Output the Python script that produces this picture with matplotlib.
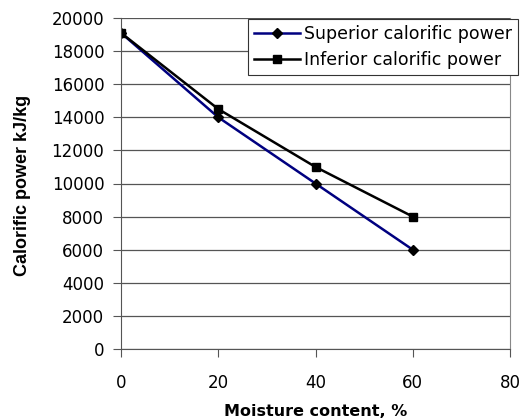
import matplotlib
matplotlib.use("Agg")
import matplotlib.pyplot as plt

moisture = [0, 20, 40, 60]
superior = [19100, 14000, 10000, 6000]
inferior = [19100, 14500, 11000, 8000]

plt.rcParams['font.family'] = ['DejaVu Sans']

fig = plt.figure(figsize=(5.3, 4.2), dpi=100)
ax = fig.add_axes([121 / 530, 1 - 349 / 420, (510 - 121) / 530, (349 - 18) / 420])

ax.plot(moisture, superior, color="#000080", lw=1.8, marker="D", markersize=5,
        markerfacecolor="black", markeredgecolor="black", label="Superior calorific power")
ax.plot(moisture, inferior, color="black", lw=1.8, marker="s", markersize=6,
        markerfacecolor="black", markeredgecolor="black", label="Inferior calorific power")

ax.set_xlim(0, 80)
ax.set_ylim(0, 20000)
ax.set_xticks(range(0, 81, 20))
ax.set_yticks(range(0, 20001, 2000))
ax.yaxis.grid(True, color="#555555", lw=0.9)
ax.set_axisbelow(True)

ax.spines["top"].set_visible(False)
ax.spines["right"].set_color("#888888")
ax.spines["left"].set_color("#555555")
ax.spines["bottom"].set_color("#555555")
ax.tick_params(direction="out", length=6, color="#555555", labelsize=12)
ax.tick_params(axis="y", pad=6)
ax.tick_params(axis="x", pad=12)

ax.set_xlabel("Moisture content, %", fontsize=11.5, fontweight="bold")
ax.xaxis.set_label_coords(0.5, (349 - 412) / 331, transform=ax.transAxes)
ax.xaxis.label.set_va("center")
ax.set_ylabel("Calorific power kJ/kg", fontsize=13, fontweight="bold",
              family="Liberation Sans")
ax.yaxis.set_label_coords((23 - 121) / 389, (349 - 185) / 331, transform=ax.transAxes)
ax.yaxis.label.set_va("center")

leg = ax.legend(loc="upper right", bbox_to_anchor=(518 / 530, 1 - 19 / 420),
                bbox_transform=fig.transFigure, fontsize=12.5,
                frameon=True, fancybox=False, edgecolor="#333333", framealpha=1,
                handlelength=2.6, handletextpad=0.25, borderpad=0.35,
                labelspacing=0.45, borderaxespad=0)
leg.get_frame().set_linewidth(0.8)

fig.savefig("out.png", dpi=100)
